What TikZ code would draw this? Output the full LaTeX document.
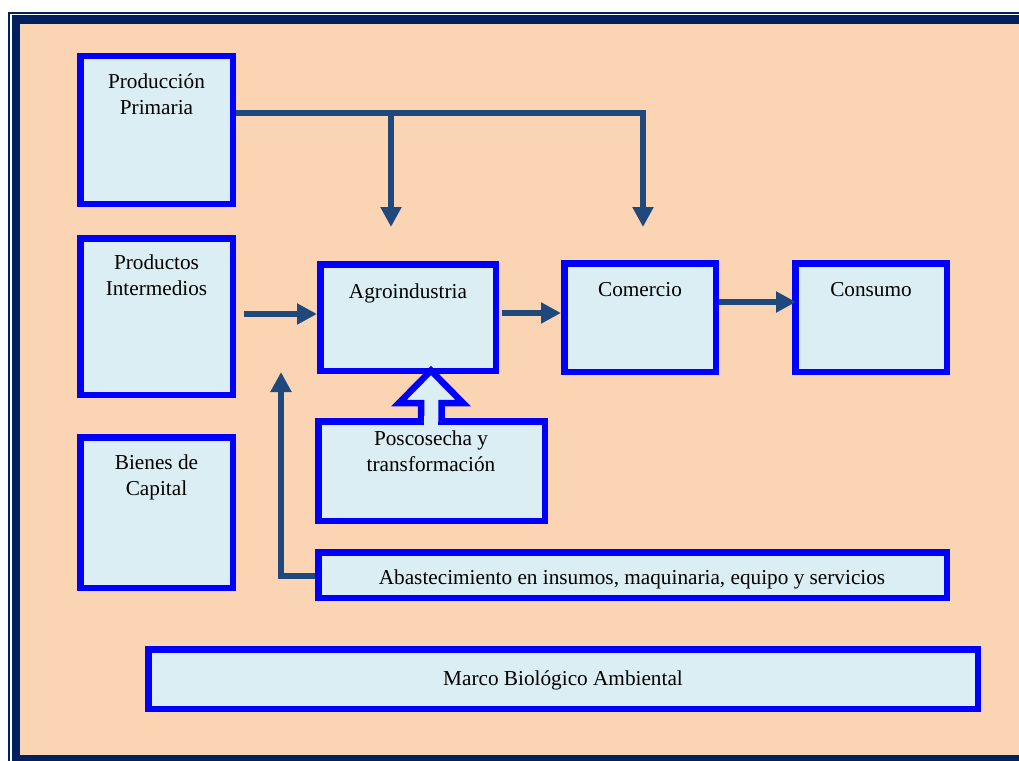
\documentclass[tikz,border=0pt]{standalone}
\usepackage{fontspec}
\setmainfont{Liberation Serif}
\usetikzlibrary{arrows.meta}
\definecolor{peach}{HTML}{FBD4B4}
\definecolor{lblue}{HTML}{DBEEF3}
\definecolor{navyc}{HTML}{002060}
\definecolor{arrowc}{HTML}{1F497D}
\begin{document}
\begin{tikzpicture}[x=1pt,y=-1pt,
  box/.style={draw=blue, line width=6.5pt, fill=lblue, inner sep=0pt},
  txt/.style={font=\fontsize{21.25}{26}\selectfont, align=center, inner sep=0pt, text=black},
  ln/.style={draw=arrowc, line width=6pt, line join=miter},
  arr/.style={ln, -{Triangle[length=20pt,width=20pt]}}]
\useasboundingbox (0,0) rectangle (1019,760);
% frame
\begin{scope}
\clip (0,0) rectangle (1019,760);
\fill[navyc] (8.3,12.3) rectangle (1100,800);
\fill[white] (10.3,14.3) rectangle (1100,800);
\fill[navyc] (12.3,15.3) rectangle (1100,800);
\fill[peach] (20,24) rectangle (1100,755);
\end{scope}
% boxes
\node[box, minimum width=152.5pt, minimum height=147.5pt] (pp) at (156.5,130) {};
\node[box, minimum width=152.5pt, minimum height=156.5pt] (pi) at (156.5,316.5) {};
\node[box, minimum width=152.5pt, minimum height=150.5pt] (bc) at (156.5,512.5) {};
\node[box, minimum width=175.5pt, minimum height=106.5pt] (agro) at (408,317.5) {};
\node[box, minimum width=151.5pt, minimum height=108.5pt] (com) at (640,317.5) {};
\node[box, minimum width=151.5pt, minimum height=108.5pt] (con) at (871,317.5) {};
\node[box, minimum width=226.5pt, minimum height=99.5pt] (pos) at (431.5,471) {};
\node[box, minimum width=628.5pt, minimum height=45.5pt] (aba) at (632.5,575) {};
\node[box, minimum width=829.5pt, minimum height=59.5pt] (mar) at (563,679) {};
% hollow arrow from Poscosecha to Agroindustria
\draw[draw=blue, line width=6.5pt, fill=lblue, line join=miter]
  (421,421) -- (421,403) -- (399,403) -- (431,370.5) -- (463,403) -- (441.5,403) -- (441.5,421);
\fill[lblue] (424.25,416) rectangle (438.25,425);
% texts
\node[txt, anchor=north] (ppt) at (156.5,73.7) {Producción\\Primaria};
\node[txt, anchor=north] (pit) at (156.5,254.7) {Productos\\Intermedios};
\node[txt, anchor=north] (bct) at (156.5,454.7) {Bienes de\\Capital};
\node[txt, anchor=base] (agrot) at (408,298) {Agroindustria};
\node[txt, anchor=base] (comt) at (640,296) {Comercio};
\node[txt, anchor=base] (cont) at (871,296) {Consumo};
\node[txt, anchor=north] (post) at (431,430.7) {Poscosecha y\\transformación};
\node[txt, anchor=base] (abat) at (632,584) {Abastecimiento en insumos, maquinaria, equipo y servicios};
\node[txt, anchor=base] (mart) at (563,685) {Marco Biológico Ambiental};
% connectors
\coordinate (tipA) at (391,227);
\coordinate (tipB) at (643,227);
\coordinate (piout) at (244,314);
\coordinate (abaup) at (281,372);
\draw[arr] (pp.east |- 0,112.7) -- (tipB |- 0,112.7) -- (tipB);
\draw[arr] (tipA |- 0,112.7) -- (tipA);
\draw[arr] (piout) -- (agro.west |- piout);
\draw[arr] ([xshift=2.5pt]agro.east |- 0,313) -- (com.west |- 0,313);
\draw[arr, shorten >=-4pt] (com.east |- 0,302) -- (con.west |- 0,302);
\draw[arr] (aba.west |- 0,576) -- (abaup |- 0,576) -- (abaup);
\end{tikzpicture}
\end{document}
